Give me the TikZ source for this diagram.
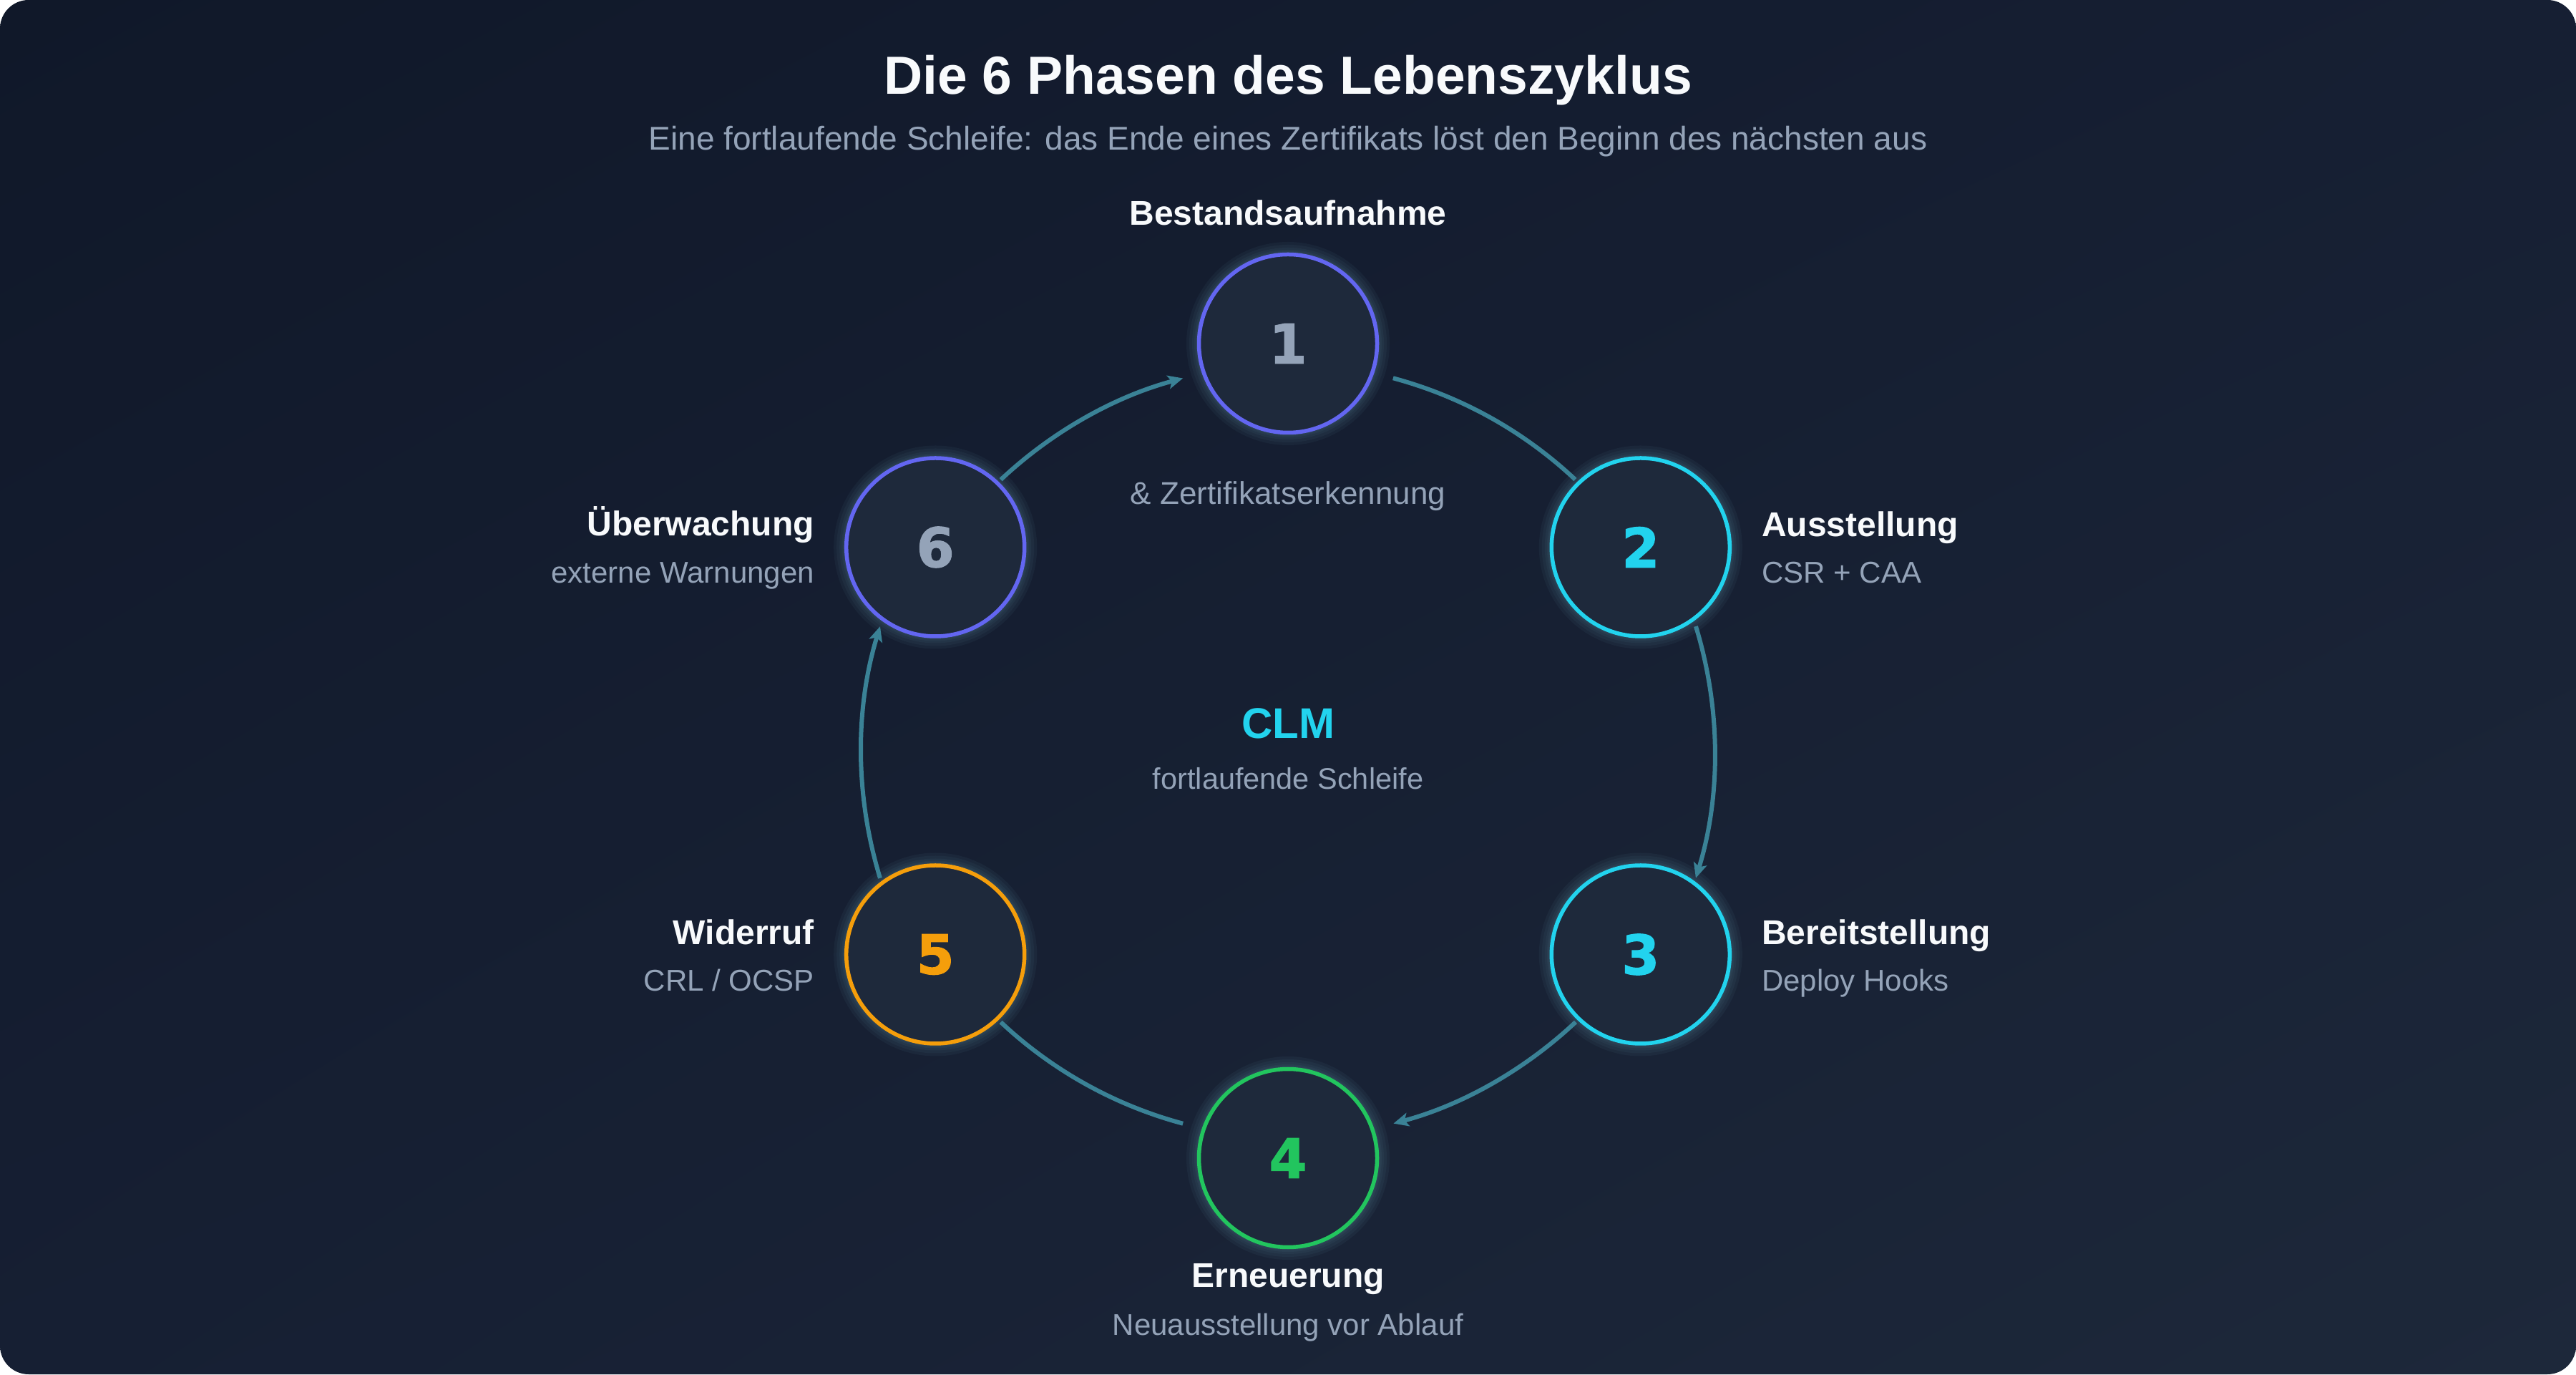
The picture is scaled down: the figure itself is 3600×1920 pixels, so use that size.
\documentclass[tikz,border=0pt]{standalone}
\usepackage{fontspec}
\setmainfont{Liberation Sans}
\newfontfamily\numfont{DejaVu Sans}[BoldFeatures={FakeBold=1.6}]
\usetikzlibrary{arrows.meta,calc,shadings}
\definecolor{bgA}{HTML}{101829}
\definecolor{bgB}{HTML}{161F33}
\definecolor{bgC}{HTML}{1D283A}
\definecolor{nodefill}{HTML}{1E293B}
\definecolor{indigoc}{HTML}{6366F1}
\definecolor{cyanc}{HTML}{22D3EE}
\definecolor{greenc}{HTML}{22C55E}
\definecolor{amberc}{HTML}{F59E0B}
\definecolor{slatec}{HTML}{94A3B8}
\definecolor{whitec}{HTML}{F8FAFC}
\definecolor{flowc}{HTML}{3A8296}
\definecolor{glowc}{HTML}{5A8A9C}
\pgfdeclarelayer{back}
\pgfdeclarelayer{mid}
\pgfsetlayers{back,mid,main}
\begin{document}
\begin{tikzpicture}[x=1pt,y=1pt,
  phase/.style={circle, minimum size=249pt, inner sep=0pt, line width=5.5pt,
    fill=nodefill, font=\numfont\bfseries\fontsize{76}{90}\selectfont},
  lbl/.style={inner sep=0pt, text=whitec, font=\bfseries\fontsize{48}{58}\selectfont},
  sub/.style={inner sep=0pt, text=slatec, font=\fontsize{42}{50}\selectfont},
  flow/.style={draw=flowc, line width=6pt},
  tip/.style={-{Stealth[length=21pt,width=19pt,inset=5pt]}},
  halo/.style={fill=glowc, opacity=0.08}]
\useasboundingbox (0,0) rectangle (3600,1920);
\begin{pgfonlayer}{back}
  \fill[white] (0,0) rectangle (3600,1920);
  \shade[rounded corners=40pt, upper left=bgA, upper right=bgB,
         lower left=bgB, lower right=bgC] (0,0) rectangle (3600,1920);
\end{pgfonlayer}

% title
\node[anchor=base, inner sep=0pt, text=whitec,
      font=\bfseries\fontsize{75}{90}\selectfont] (title) at (1800,1788)
      {Die 6 Phasen des Lebenszyklus};
\node[anchor=base, inner sep=0pt, text=slatec,
      font=\fontsize{46}{55}\selectfont] (subtitle) at (1800,1710)
      {Eine fortlaufende Schleife: das Ende eines Zertifikats löst den Beginn des nächsten aus};

% phases
\node[phase, draw=indigoc, text=slatec] (n1) at (1800,1440) {1};
\node[phase, draw=cyanc, text=cyanc] (n2) at (2292.8,1155.5) {2};
\node[phase, draw=cyanc, text=cyanc] (n3) at (2292.8,586.5) {3};
\node[phase, draw=greenc, text=greenc] (n4) at (1800,302) {4};
\node[phase, draw=amberc, text=amberc] (n5) at (1307.2,586.5) {5};
\node[phase, draw=indigoc, text=slatec] (n6) at (1307.2,1155.5) {6};

% labels
\node[lbl, anchor=base] (l1) at (1800,1605) {Bestandsaufnahme};
\node[sub, anchor=base, font=\fontsize{44}{52}\selectfont] (s1) at (1800,1215) {\& Zertifikatserkennung};
\node[lbl, anchor=base west] (l2) at (2462,1170) {Ausstellung};
\node[sub, anchor=base west] (s2) at (2462,1105) {CSR + CAA};
\node[lbl, anchor=base west] (l3) at (2462,600) {Bereitstellung};
\node[sub, anchor=base west] (s3) at (2462,535) {Deploy Hooks};
\node[lbl, anchor=base] (l4) at (1800,122) {Erneuerung};
\node[sub, anchor=base] (s4) at (1800,55) {Neuausstellung vor Ablauf};
\node[lbl, anchor=base east] (l5) at (1138,600) {Widerruf};
\node[sub, anchor=base east] (s5) at (1138,535) {CRL / OCSP};
\node[lbl, anchor=base east] (l6) at (1138,1171) {Überwachung};
\node[sub, anchor=base east] (s6) at (1138,1105) {externe Warnungen};

% centre
\node[anchor=base, inner sep=0pt, text=cyanc,
      font=\bfseries\fontsize{60}{72}\selectfont] (clm) at (1800,888) {CLM};
\node[sub, anchor=base, font=\fontsize{41.5}{50}\selectfont] (loop) at (1800,817) {fortlaufende Schleife};

\begin{pgfonlayer}{mid}
  \foreach \n in {n1,n2,n3,n4,n5,n6}{
    \foreach \r in {142,138,134,131,129}{
      \fill[halo] (\n) circle[radius=\r];
    }
  }
  \draw[flow] ($(n1)+(-18.2:154.6)$) arc[start angle=75, end angle=46.8, radius=598];
  \draw[flow,tip] ($(n2)+(-55.1:134.8)$) arc[start angle=17.1, end angle=-17.1, radius=598];
  \draw[flow,tip] ($(n3)+(226.1:131)$) arc[start angle=-46.8, end angle=-75, radius=598];
  \draw[flow] ($(n4)+(161.8:154.6)$) arc[start angle=-105, end angle=-133.2, radius=598];
  \draw[flow,tip] ($(n5)+(125.9:131.7)$) arc[start angle=197.1, end angle=162.9, radius=598];
  \draw[flow,tip] ($(n6)+(45.9:131.3)$) arc[start angle=133.2, end angle=105, radius=598];
\end{pgfonlayer}
\end{tikzpicture}
\end{document}
